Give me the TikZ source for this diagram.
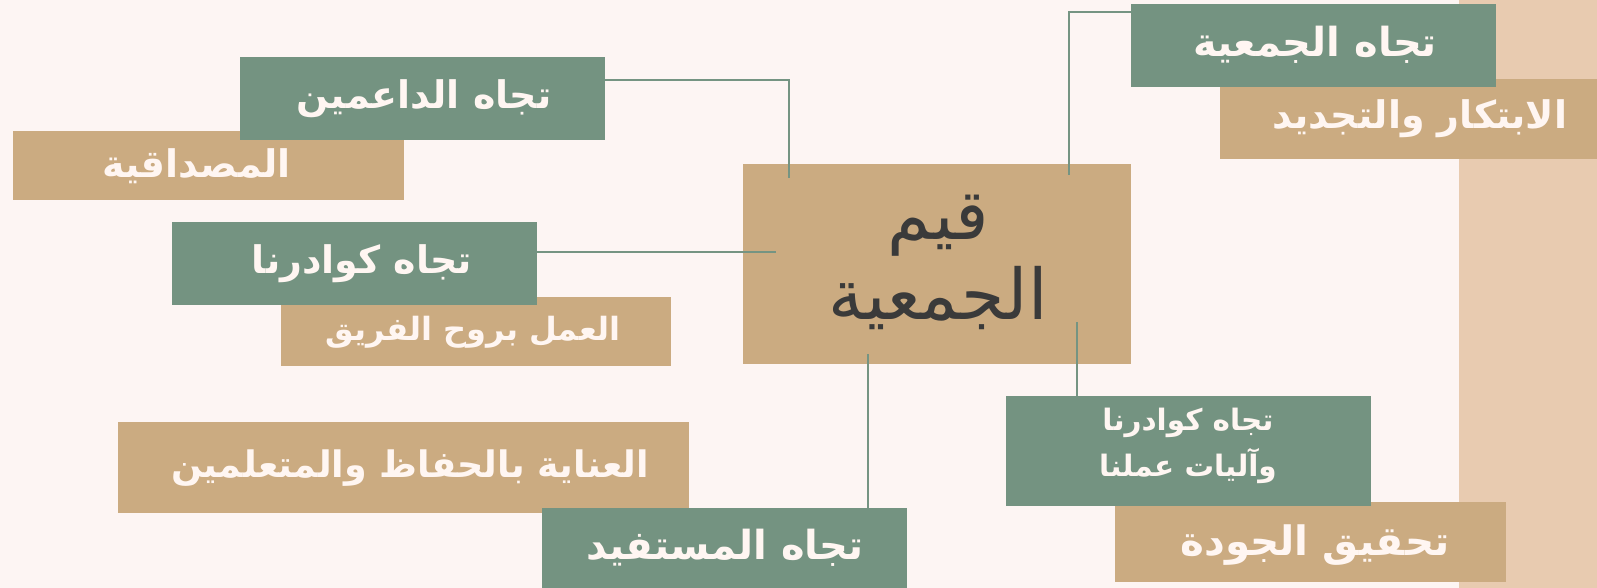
\documentclass[tikz,border=0pt]{standalone}
\usepackage{fontspec}
\TeXXeTstate=1
\newfontfamily\arabicfont[Script=Arabic]{DejaVu Sans}
\definecolor{bgc}{RGB}{253,245,243}
\definecolor{stripc}{RGB}{232,203,176}
\definecolor{greenc}{RGB}{116,147,129}
\definecolor{tanc}{RGB}{203,171,129}
\definecolor{txtc}{RGB}{255,246,242}
\definecolor{darkc}{RGB}{58,58,58}
\definecolor{linec}{RGB}{117,148,130}
\tikzset{
  box/.style={draw=none, inner sep=0pt, outer sep=0pt},
  gbox/.style={box, fill=greenc},
  tbox/.style={box, fill=tanc},
  lbl/.style={inner sep=0pt, text=txtc, font=\arabicfont\bfseries\fontsize{#1}{#1}\selectfont},
  lbl/.default=38,
  lblsmall/.style={inner sep=0pt, text=txtc, align=center, font=\arabicfont\bfseries\fontsize{29.5}{46}\selectfont},
  lblmain/.style={inner sep=0pt, text=darkc, align=center, font=\arabicfont\fontsize{70}{80}\selectfont},
  conn/.style={draw=linec, line width=2pt},
}
\begin{document}
\begin{tikzpicture}[x=1pt,y=-1pt]
\fill[bgc] (0,0) rectangle (1597,588);
\useasboundingbox (0,0) rectangle (1597,588);
% right strip
\fill[stripc] (1459.4,0) rectangle (1597,588);
% tan boxes
\node[tbox, minimum width=377pt, minimum height=79.7pt] (tIbt) at (1408.5,118.9) {};
\node[tbox, minimum width=391.2pt, minimum height=68.7pt] (tMsd) at (208.4,165.3) {};
\node[tbox, minimum width=390.4pt, minimum height=68.7pt] (tAmal) at (476.2,331.3) {};
\node[tbox, minimum width=570.9pt, minimum height=90.7pt] (tEnaya) at (403.3,467.3) {};
\node[tbox, minimum width=391pt, minimum height=79.7pt] (tJawda) at (1310.7,541.8) {};
\node[tbox, minimum width=388pt, minimum height=199.7pt] (main) at (937,263.9) {};
% green boxes
\node[gbox, minimum width=364.5pt, minimum height=82.7pt] (gJam) at (1313.3,45.3) {};
\node[gbox, minimum width=365.3pt, minimum height=82.7pt] (gDaem) at (422.5,98.3) {};
\node[gbox, minimum width=365.2pt, minimum height=83pt] (gKaw) at (354.6,263.5) {};
\node[gbox, minimum width=365.5pt, minimum height=80pt] (gMust) at (724.5,548) {};
\node[gbox, minimum width=365.1pt, minimum height=109.7pt] (gKawA) at (1188.5,450.8) {};
% connectors
\coordinate (c1) at (1069.4,11.7);
\coordinate (e1) at (1069.4,175.3);
\coordinate (c2) at (788.8,80);
\coordinate (e2) at (788.8,178);
\coordinate (e3) at (775.5,252.3);
\coordinate (s4) at (868.1,354);
\coordinate (s5) at (1077,322.3);
\draw[conn] (gJam.west |- c1) -- (c1) -- (e1);
\draw[conn] (gDaem.east |- c2) -- (c2) -- (e2);
\draw[conn] (gKaw.east |- e3) -- (e3);
\draw[conn] (s4) -- (s4 |- gMust.north);
\draw[conn] (s5) -- (s5 |- gKawA.north);
% texts
\node[lbl=40] (xJam) at (1315,45) {\beginR تجاه الجمعية\endR};
\node[lbl] (xIbt) at (1420,119) {\beginR الابتكار والتجديد\endR};
\node[lbl] (xDaem) at (424,99) {\beginR تجاه الداعمين\endR};
\node[lbl] (xMsd) at (196.5,166) {\beginR المصداقية\endR};
\node[lbl] (xKaw) at (362,264) {\beginR تجاه كوادرنا\endR};
\node[lbl=32] (xAmal) at (473,332) {\beginR العمل بروح الفريق\endR};
\node[lbl=36.5] (xEnaya) at (410,468) {\beginR العناية بالحفاظ والمتعلمين\endR};
\node[lbl=40] (xMust) at (725,548) {\beginR تجاه المستفيد\endR};
\node[lblsmall] (xKawA) at (1188,446) {\beginR تجاه كوادرنا\endR\\\beginR وآليات عملنا\endR};
\node[lbl=40.5] (xJawda) at (1315,545) {\beginR تحقيق الجودة\endR};
\node[lblmain] (xMain) at (938,262) {\beginR قيم\endR\\\beginR الجمعية\endR};
\end{tikzpicture}
\end{document}
